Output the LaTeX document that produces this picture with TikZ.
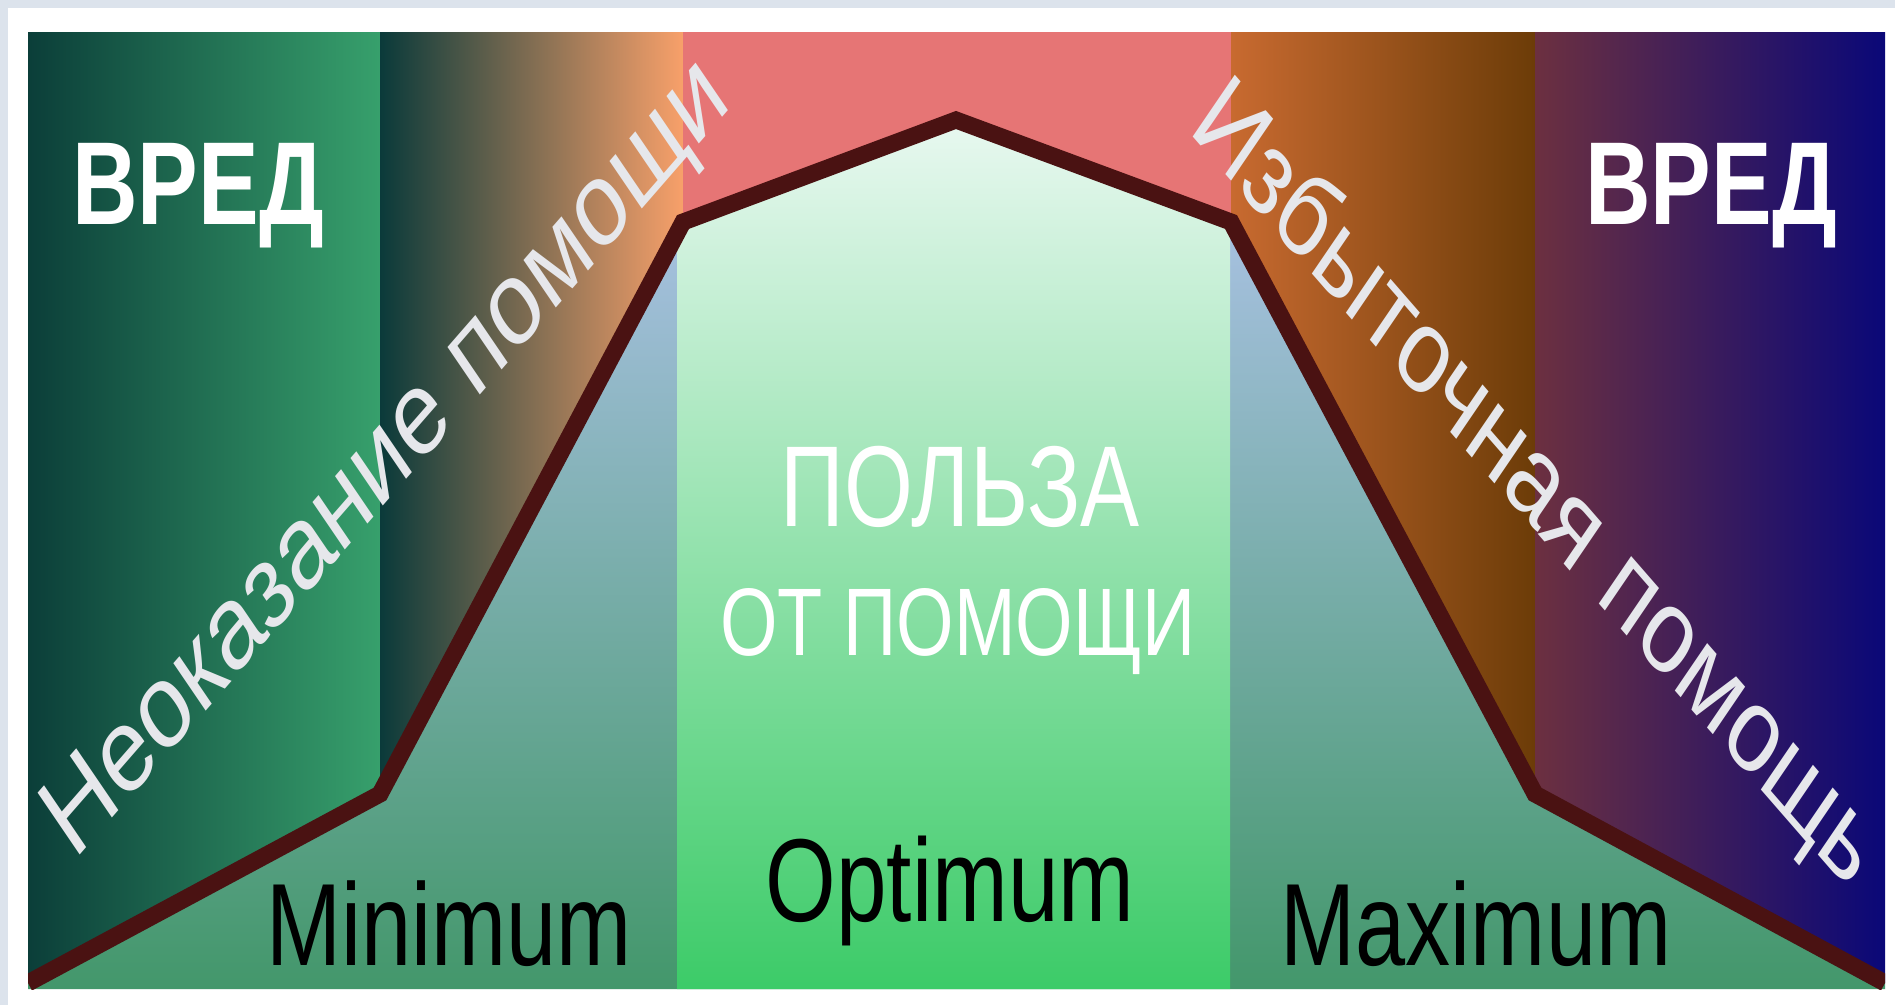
\documentclass[tikz,border=0pt]{standalone}
\usepackage{fontspec}
\setmainfont{Liberation Sans}
\usepackage{tikz}
\usetikzlibrary{calc}

\definecolor{framegray}{HTML}{DCE3EC}
\definecolor{harmgreenL}{HTML}{0B3E39}
\definecolor{harmgreenR}{HTML}{37A06C}
\definecolor{lackL}{HTML}{0A3A3A}
\definecolor{lackM}{HTML}{7A6448}
\definecolor{lackR}{HTML}{F8A06A}
\definecolor{optred}{HTML}{E67575}
\definecolor{excessL}{HTML}{C86A30}
\definecolor{excessR}{HTML}{6C3C08}
\definecolor{harmblueL}{HTML}{6C3040}
\definecolor{harmblueR}{HTML}{0A0878}
\definecolor{lowtop}{HTML}{AAC2E4}
\definecolor{lowbottom}{HTML}{43976B}
\definecolor{mintop}{HTML}{E8F8F0}
\definecolor{minbottom}{HTML}{3CCB68}
\definecolor{curvebrown}{HTML}{4A1212}
\definecolor{slopetext}{HTML}{E6E7EB}

\begin{document}
\begin{tikzpicture}[
        x=1pt,
        y=-1pt,
        help curve/.style={line width=17pt,color=curvebrown,line join=miter},
        harm label/.style={
            text=white,font=\bfseries\fontsize{118}{120}\selectfont,
            xscale=0.77,anchor=base,inner sep=0pt
        },
        benefit label/.style={text=white,xscale=0.77,anchor=base,inner sep=0pt},
        zone label/.style={
            text=black,font=\fontsize{117}{120}\selectfont,
            xscale=0.77,anchor=base,inner sep=0pt
        },
        slope label/.style={
            text=slopetext,font=\fontsize{120}{124}\selectfont,
            anchor=base west,inner sep=0pt
        }
    ]
        \useasboundingbox (0,0) rectangle (1895,1005);
        \fill[framegray] (0,0) rectangle (1895,1005);
        \fill[white] (8,8) rectangle (1895,1005);

        % Corners of the help curve.
        \coordinate (startL) at (28,983);
        \coordinate (kneeL) at (380,794);
        \coordinate (shoulderL) at (683,222);
        \coordinate (peak) at (956,120);
        \coordinate (shoulderR) at (1231,222);
        \coordinate (kneeR) at (1535,794);
        \coordinate (endR) at (1885,983);

        % The five bands above the curve.
        \shade[left color=harmgreenL,right color=harmgreenR]
            (28,32) -- (380,32) -- (kneeL) -- (startL) -- cycle;
        \shade[left color=lackL,middle color=lackM,right color=lackR]
            (380,32) -- (683,32) -- (shoulderL) -- (kneeL) -- cycle;
        \fill[optred]
            (683,32) -- (1231,32) -- (shoulderR) -- (peak) -- (shoulderL) -- cycle;
        \shade[left color=excessL,right color=excessR]
            (1231,32) -- (1535,32) -- (kneeR) -- (shoulderR) -- cycle;
        \shade[left color=harmblueL,right color=harmblueR]
            (1535,32) -- (1885,32) -- (endR) -- (kneeR) -- cycle;

        % The area under the curve, with the optimum column in the middle.
        \begin{scope}
            \clip (startL) -- (kneeL) -- (shoulderL) -- (peak) -- (shoulderR)
                -- (kneeR) -- (endR) -- (1885,989) -- (28,989) -- cycle;
            \shade[top color=lowtop,bottom color=lowbottom]
                (28,200) rectangle (1885,989);
            \shade[top color=mintop,bottom color=minbottom]
                (677,120) rectangle (1230,989);
        \end{scope}

        \begin{scope}
            \clip (28,32) rectangle (1885,989);
            \draw[help curve] (startL) -- (kneeL) -- (shoulderL) -- (peak)
                -- (shoulderR) -- (kneeR) -- (endR);
        \end{scope}

        % Labels.
        \node[harm label] (harmL) at (198,224) {ВРЕД};
        \node[harm label] (harmR) at (1711,224) {ВРЕД};
        \node[benefit label,font=\fontsize{115}{118}\selectfont] (benefit)
            at (960,526) {ПОЛЬЗА};
        \node[benefit label,font=\fontsize{96}{100}\selectfont] (benefitof)
            at (958,655) {ОТ ПОМОЩИ};
        \node[zone label,font=\fontsize{118}{120}\selectfont] (optimum)
            at (950,921) {Optimum};
        \node[zone label] (minimum) at (449,965) {Minimum};
        \node[zone label] (maximum) at (1476,965) {Maximum};
        \node[slope label,xscale=0.77,rotate=41.5] (nohelp)
            at (74,862) {Неоказание помощи};
        \node[slope label,xscale=0.77,rotate=-41.5] (toomuch)
            at (1187,130) {Избыточная помощь};
    \end{tikzpicture}
\end{document}
